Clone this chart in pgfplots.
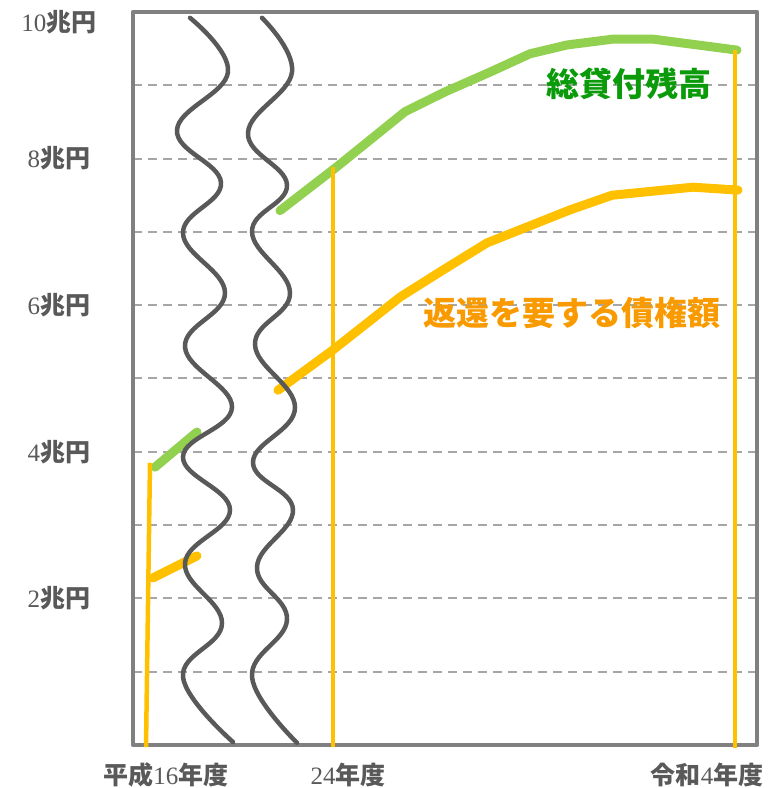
\documentclass[border=0pt]{standalone}
\usepackage{pgfplots}
\pgfplotsset{compat=1.18}
\usepackage{fontspec}
\setmainfont{Liberation Serif}
\newfontfamily\cjk{Noto Sans CJK JP}

\definecolor{framegray}{HTML}{808080}
\definecolor{gridgray}{HTML}{A6A6A6}
\definecolor{wavegray}{HTML}{595959}
\definecolor{labelgray}{HTML}{595959}
\definecolor{loangreen}{HTML}{92D050}
\definecolor{debtorange}{HTML}{FFC000}
\definecolor{greentext}{HTML}{0A9A0A}
\definecolor{orangetext}{HTML}{F89A00}

\newcommand{\kj}[1]{{\cjk\bfseries #1}}

\begin{document}
\begin{tikzpicture}
\path[use as bounding box] (0,0) rectangle (769pt,788pt);
\begin{axis}[
  at={(133pt,43pt)}, anchor=south west,
  scale only axis, width=624pt, height=733pt,
  xmin=133, xmax=757, ymin=0, ymax=10,
  clip=false,
  axis line style={draw=framegray, line width=4.5pt, line join=round},
  major tick length=0pt, minor tick length=0pt,
  xtick={166,348,707},
  xticklabels={\kj{平成}16\kj{年度}, 24\kj{年度}, \kj{令和}4\kj{年度}},
  xticklabel style={anchor=base, inner sep=0pt, text depth=0pt, yshift=-39pt,
    text=labelgray, font=\fontsize{25}{28}\selectfont},
  ytick={2,4,6,8},
  yticklabels={2\kj{兆円}, 4\kj{兆円}, 6\kj{兆円}, 8\kj{兆円}},
  minor ytick={1,3,5,7,9},
  extra y ticks={9.86},
  extra y tick labels={10\kj{兆円}},
  extra y tick style={grid=none},
  yticklabel style={anchor=center, xshift=-74pt, text=labelgray,
    font=\fontsize{25}{28}\selectfont},
  ymajorgrids, yminorgrids,
  major grid style={draw=gridgray, line width=2pt, dash pattern=on 9pt off 6pt},
  minor grid style={draw=gridgray, line width=2pt, dash pattern=on 9pt off 6pt},
]
% total loans outstanding
\addplot[draw=loangreen, line width=9pt, line cap=round, line join=round]
  coordinates {(155,3.79) (197,4.27)};
\addplot[draw=loangreen, line width=9pt, line cap=round, line join=round]
  coordinates {(280,7.29) (337,7.89) (405,8.64) (445,8.91) (490,9.18)
               (530,9.43) (567,9.55) (613,9.63) (653,9.63) (737,9.48)};
% claims requiring repayment
\addplot[draw=debtorange, line width=9pt, line cap=round, line join=round]
  coordinates {(153,2.28) (197,2.58)};
\addplot[draw=debtorange, line width=9pt, line cap=round, line join=round]
  coordinates {(278,4.84) (333,5.39) (400,6.11) (443,6.48) (487,6.85)
               (570,7.30) (612,7.50) (693,7.61) (738,7.57)};
% year markers
\addplot[draw=debtorange, line width=4.5pt] coordinates {(146,-0.03) (150,3.85)};
\addplot[draw=debtorange, line width=4.5pt] coordinates {(333,-0.03) (333,7.89)};
\addplot[draw=debtorange, line width=4.5pt] coordinates {(735,-0.04) (735,9.48)};
% axis break
\addplot[draw=wavegray, line width=4.5pt, line cap=round, smooth, tension=0.7]
  coordinates {(190,9.92) (228,9.18) (177,8.39) (221,7.67) (183,6.98) (225,6.17)
               (185,5.43) (232,4.61) (183,3.93) (230,3.21) (185,2.48) (222,1.66)
               (183,0.93) (233,0.04)};
\addplot[draw=wavegray, line width=4.5pt, line cap=round, smooth, tension=0.7]
  coordinates {(262,9.92) (292,9.18) (248,8.35) (287,7.64) (252,7.00) (290,6.17)
               (255,5.46) (295,4.60) (253,3.86) (293,3.21) (257,2.43) (287,1.71)
               (252,0.93) (297,0.03)};
\node[text=greentext, font=\fontsize{33}{38}\selectfont\cjk\bfseries]
  at (axis cs:629,9.02) {総貸付残高};
\node[text=orangetext, font=\fontsize{33}{38}\selectfont\cjk\bfseries]
  at (axis cs:572,5.89) {返還を要する債権額};
\end{axis}
\end{tikzpicture}
\end{document}
